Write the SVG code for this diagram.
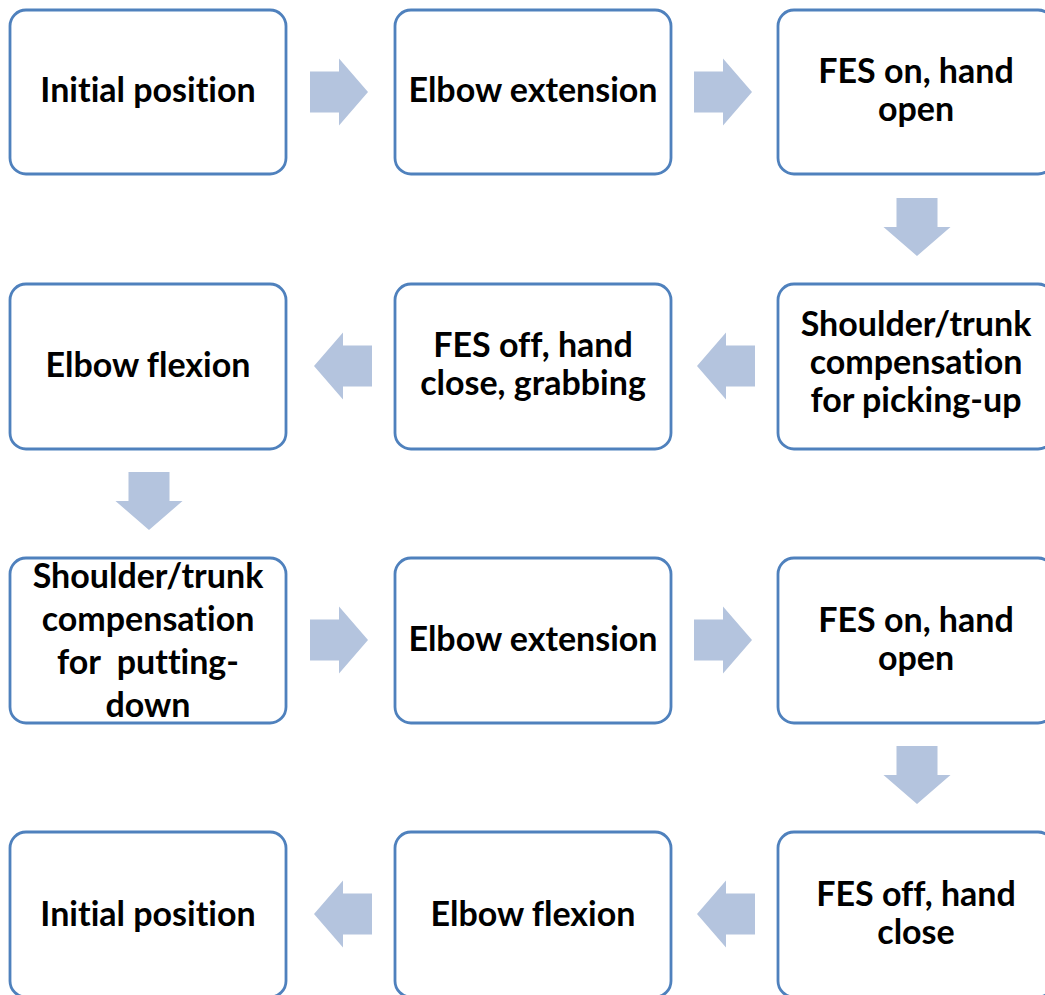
<svg xmlns="http://www.w3.org/2000/svg" xmlns:xlink="http://www.w3.org/1999/xlink" width="1045" height="995" viewBox="0 0 1045 995">
  <style>
    .box { fill: #ffffff; stroke: #4f81bd; stroke-width: 2.8; }
    .lbl { font-family: Lato, "Liberation Sans", sans-serif; font-weight: 700; font-size: 34px; fill: #000000; text-anchor: middle; font-variant-ligatures: none; }
    .arrow { fill: #b4c4de; }
  </style>
  <defs>
    <!-- block arrow pointing right, tail at origin -->
    <path id="blk" class="arrow" d="M0,-20.5 H29 V-33.5 L58,0 L29,33.5 V20.5 H0 Z"/>
  </defs>
  <rect width="1045" height="995" fill="#ffffff"/>

  <g id="connectors">
    <use xlink:href="#blk" transform="translate(310,92)"/>
    <use xlink:href="#blk" transform="translate(694,92)"/>
    <use xlink:href="#blk" transform="translate(917,198) rotate(90)"/>
    <use xlink:href="#blk" transform="translate(755,366) scale(-1,1)"/>
    <use xlink:href="#blk" transform="translate(372,366) scale(-1,1)"/>
    <use xlink:href="#blk" transform="translate(149,472) rotate(90)"/>
    <use xlink:href="#blk" transform="translate(310,640)"/>
    <use xlink:href="#blk" transform="translate(694,640)"/>
    <use xlink:href="#blk" transform="translate(917,746) rotate(90)"/>
    <use xlink:href="#blk" transform="translate(755,914) scale(-1,1)"/>
    <use xlink:href="#blk" transform="translate(372,914) scale(-1,1)"/>
  </g>

  <g id="n1">
    <rect class="box" x="10" y="10" width="276" height="164" rx="16"/>
    <text class="lbl" x="148" y="102">Initial position</text>
  </g>
  <g id="n2">
    <rect class="box" x="395" y="10" width="276" height="164" rx="16"/>
    <text class="lbl" x="533" y="102">Elbow extension</text>
  </g>
  <g id="n3">
    <rect class="box" x="778" y="10" width="276" height="164" rx="16"/>
    <text class="lbl" x="916" y="83">FES on, hand<tspan x="916" y="121">open</tspan></text>
  </g>
  <g id="n4">
    <rect class="box" x="778" y="284" width="276" height="165" rx="16"/>
    <text class="lbl" x="916" y="336">Shoulder/trunk<tspan x="916" y="374">compensation</tspan><tspan x="916" y="412">for picking-up</tspan></text>
  </g>
  <g id="n5">
    <rect class="box" x="395" y="284" width="276" height="165" rx="16"/>
    <text class="lbl" x="533" y="357">FES off, hand<tspan x="533" y="395">close, grabbing</tspan></text>
  </g>
  <g id="n6">
    <rect class="box" x="10" y="284" width="276" height="165" rx="16"/>
    <text class="lbl" x="148" y="377">Elbow flexion</text>
  </g>
  <g id="n7">
    <rect class="box" x="10" y="558" width="276" height="165" rx="16"/>
    <text class="lbl" x="148" y="588">Shoulder/trunk<tspan x="148" y="631">compensation</tspan><tspan x="148" y="674" xml:space="preserve">for  putting-</tspan><tspan x="148" y="717">down</tspan></text>
  </g>
  <g id="n8">
    <rect class="box" x="395" y="558" width="276" height="165" rx="16"/>
    <text class="lbl" x="533" y="651">Elbow extension</text>
  </g>
  <g id="n9">
    <rect class="box" x="778" y="558" width="276" height="165" rx="16"/>
    <text class="lbl" x="916" y="632">FES on, hand<tspan x="916" y="670">open</tspan></text>
  </g>
  <g id="n10">
    <rect class="box" x="778" y="832" width="276" height="165" rx="16"/>
    <text class="lbl" x="916" y="906">FES off, hand<tspan x="916" y="944">close</tspan></text>
  </g>
  <g id="n11">
    <rect class="box" x="395" y="832" width="276" height="165" rx="16"/>
    <text class="lbl" x="533" y="926">Elbow flexion</text>
  </g>
  <g id="n12">
    <rect class="box" x="10" y="832" width="276" height="165" rx="16"/>
    <text class="lbl" x="148" y="926">Initial position</text>
  </g>
</svg>
